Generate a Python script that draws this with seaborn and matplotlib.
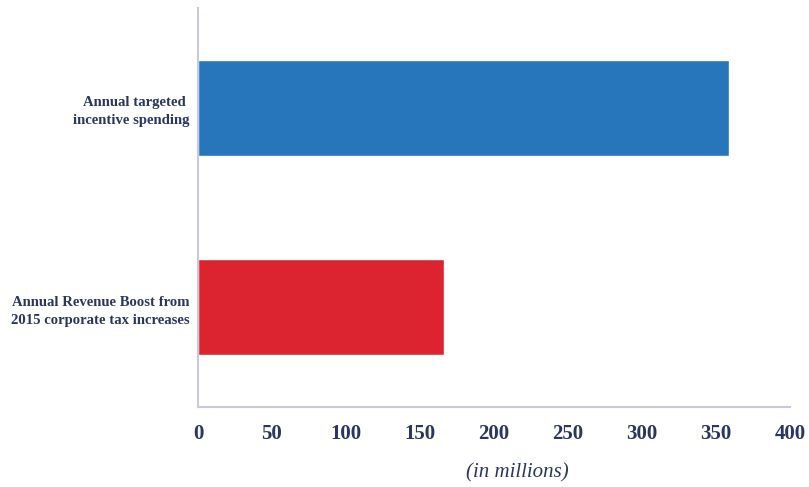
import matplotlib
matplotlib.use("Agg")
import matplotlib.pyplot as plt
import seaborn as sns
import pandas as pd

categories = ["Annual targeted \nincentive spending",
              "Annual Revenue Boost from\n2015 corporate tax increases"]
values = [359, 166]
colors = ["#2775bb", "#dc2330"]
xticks = [0, 50, 100, 150, 200, 250, 300, 350, 400]

navy = "#2a3561"
spine_col = "#c9c9da"

sns.set_theme(style="white")
plt.rcParams['font.family'] = ['Liberation Serif', 'DejaVu Serif']

df = pd.DataFrame({"cat": categories, "val": values})

fig = plt.figure(figsize=(8.09, 4.87), dpi=100)
ax = fig.add_axes([0.2447, 0.1643, 0.7318, 0.8193])
sns.barplot(data=df, x="val", y="cat", hue="cat", palette=colors,
            orient="h", width=0.48, legend=False, ax=ax, saturation=1)

ax.set_xlim(0, 400)
ax.set_ylim(1.5, -0.5)
ax.set_xticks(xticks)
ax.set_xticklabels([str(t) for t in xticks], fontsize=15, fontweight="bold", color=navy)
ax.tick_params(axis="x", length=0, pad=12)
ax.tick_params(axis="y", length=0, pad=6)
ax.set_yticks([0, 1])
ax.set_yticklabels(categories, fontsize=10.6, fontweight="bold", color=navy,
                   multialignment="right", linespacing=1.5)
ax.set_xlabel("(in millions)", fontsize=15, fontstyle="italic", color=navy)
ax.xaxis.set_label_coords(0.54, -0.14)
ax.set_ylabel("")
for s in ["top", "right"]:
    ax.spines[s].set_visible(False)
for s in ["left", "bottom"]:
    ax.spines[s].set_color(spine_col)
    ax.spines[s].set_linewidth(1.5)

fig.savefig("out.png", dpi=100)
